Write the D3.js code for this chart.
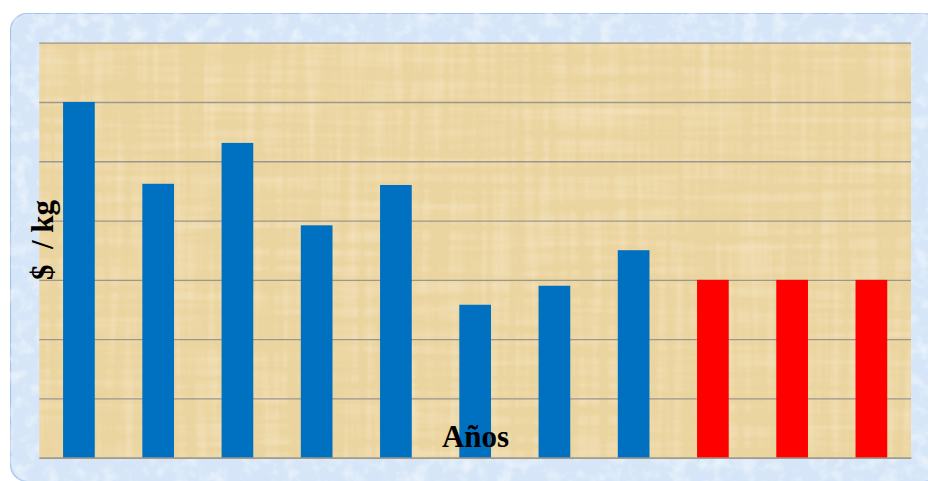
<!DOCTYPE html>
<html>
<head>
<meta charset="utf-8">
<script src="https://cdn.jsdelivr.net/npm/d3@7"></script>
<style>
  html, body { margin: 0; padding: 0; background: #ffffff; }
  svg { display: block; }
  text { font-family: "Liberation Serif", "Times New Roman", serif; font-weight: bold; fill: #000; }
</style>
</head>
<body>
<svg id="chart" width="928" height="481"></svg>
<script>
// Precio por kilogramo, por año (las tres últimas barras son proyecciones)
const years = ["2001", "2002", "2003", "2004", "2005", "2006", "2007", "2008", "2009", "2010", "2011"];
const pricePerKg = [6.0, 4.62, 5.31, 3.92, 4.6, 2.58, 2.9, 3.5, 3.0, 3.0, 3.0];
const isProjection = [false, false, false, false, false, false, false, false, true, true, true];
const yTicks = [0, 1, 2, 3, 4, 5, 6, 7];
const yLabel = "$  / kg";
const xLabel = "Años";

const svg = d3.select("#chart");
const plot = { left: 39.3, top: 42.7, right: 911, bottom: 457.7 };

const defs = svg.append("defs");

// Mottled light-blue card texture
const cardF = defs.append("filter").attr("id", "cardTex")
  .attr("x", 0).attr("y", 0).attr("width", 1).attr("height", 1);
cardF.append("feTurbulence").attr("type", "fractalNoise")
  .attr("baseFrequency", "0.07").attr("numOctaves", 3).attr("seed", 4).attr("result", "n");
cardF.append("feColorMatrix").attr("in", "n").attr("type", "matrix")
  .attr("values", "0 0 0 0 0.96  0 0 0 0 0.98  0 0 0 0 1  0 0 0 1.3 -0.6").attr("result", "spots");
cardF.append("feComposite").attr("in", "spots").attr("in2", "SourceGraphic").attr("operator", "in").attr("result", "sp");
cardF.append("feMerge").call(m => { m.append("feMergeNode").attr("in", "SourceGraphic"); m.append("feMergeNode").attr("in", "sp"); });

// Papyrus fibre texture: faint horizontal and vertical streaks over tan
const papF = defs.append("filter").attr("id", "papTex")
  .attr("x", 0).attr("y", 0).attr("width", 1).attr("height", 1);
papF.append("feTurbulence").attr("type", "fractalNoise")
  .attr("baseFrequency", "0.006 0.12").attr("numOctaves", 2).attr("seed", 7).attr("result", "h");
papF.append("feTurbulence").attr("type", "fractalNoise")
  .attr("baseFrequency", "0.12 0.006").attr("numOctaves", 2).attr("seed", 11).attr("result", "v");
papF.append("feComposite").attr("in", "h").attr("in2", "v").attr("operator", "arithmetic")
  .attr("k1", 0).attr("k2", 0.5).attr("k3", 0.5).attr("k4", 0).attr("result", "hv");
papF.append("feColorMatrix").attr("in", "hv").attr("type", "matrix")
  .attr("values", "0 0 0 0 0.78  0 0 0 0 0.66  0 0 0 0 0.40  -1.0 0 0 0 0.52").attr("result", "dark");
papF.append("feColorMatrix").attr("in", "hv").attr("type", "matrix")
  .attr("values", "0 0 0 0 0.98  0 0 0 0 0.90  0 0 0 0 0.72  1.0 0 0 0 -0.42").attr("result", "light");
papF.append("feComposite").attr("in", "dark").attr("in2", "SourceGraphic").attr("operator", "in").attr("result", "d2");
papF.append("feComposite").attr("in", "light").attr("in2", "SourceGraphic").attr("operator", "in").attr("result", "l2");
papF.append("feMerge").call(m => {
  m.append("feMergeNode").attr("in", "SourceGraphic");
  m.append("feMergeNode").attr("in", "d2");
  m.append("feMergeNode").attr("in", "l2");
});

// Rounded card behind the chart
svg.append("rect")
  .attr("x", 10.5).attr("y", 13.5).attr("width", 930).attr("height", 468)
  .attr("rx", 17).attr("ry", 17)
  .attr("fill", "#d6e6f8").attr("stroke", "#9fc2ee").attr("stroke-width", 1.2)
  .attr("filter", "url(#cardTex)");

// Plot area
svg.append("rect")
  .attr("x", plot.left).attr("y", plot.top)
  .attr("width", plot.right - plot.left).attr("height", plot.bottom - plot.top)
  .attr("fill", "#ebd49e")
  .attr("filter", "url(#papTex)");

const x = d3.scaleBand().domain(years)
  .range([plot.left, plot.right]).paddingInner(0.6).paddingOuter(0.3);
const y = d3.scaleLinear().domain([0, 7]).range([plot.bottom, plot.top]);

// Horizontal gridlines via an axis without labels
svg.append("g")
  .attr("transform", `translate(${plot.left},0)`)
  .call(d3.axisLeft(y).tickValues(yTicks).tickSize(-(plot.right - plot.left)).tickFormat(""))
  .call(g => g.select(".domain").remove())
  .call(g => g.selectAll(".tick line").attr("stroke", "#9b968e").attr("stroke-width", 1.3));

// Bars
svg.append("g").selectAll("rect")
  .data(years.map((yr, i) => ({ yr, v: pricePerKg[i], proj: isProjection[i] })))
  .join("rect")
  .attr("x", d => x(d.yr))
  .attr("y", d => y(d.v))
  .attr("width", x.bandwidth())
  .attr("height", d => y(0) - y(d.v))
  .attr("fill", d => d.proj ? "#ff0000" : "#0070c0");

// Category axis line
svg.append("g")
  .attr("transform", `translate(0,${plot.bottom})`)
  .call(d3.axisBottom(x).tickSize(0).tickFormat(""))
  .call(g => g.select(".domain").attr("stroke", "#a39a88").attr("stroke-width", 1.5));

// Axis titles
svg.append("text")
  .attr("transform", "translate(53,240) rotate(-90)")
  .attr("text-anchor", "middle")
  .attr("font-size", 31)
  .style("white-space", "pre")
  .text(yLabel);

svg.append("text")
  .attr("x", 475.5).attr("y", 447)
  .attr("text-anchor", "middle")
  .attr("font-size", 31)
  .text(xLabel);
</script>
</body>
</html>
